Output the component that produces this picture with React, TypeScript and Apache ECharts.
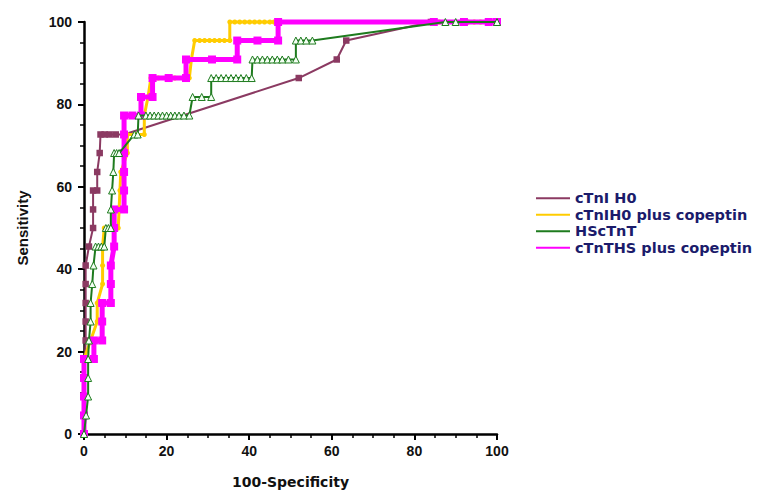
import React, { useEffect, useRef } from "react";
import * as echarts from "echarts";

// [100-Specificity, Sensitivity]
const cTnIH0: number[][] = [
  [0, 0], [0, 4.5], [0, 9.1], [0, 13.6], [0.2, 18.2], [0.4, 22.7], [0.4, 27.3], [0.4, 31.8],
  [0.4, 36.4], [0.4, 40.9], [1.2, 45.5], [2.2, 50], [2.2, 54.5], [2.2, 59.1], [3.2, 59.1],
  [3.2, 63.6], [3.8, 68.2], [4, 72.7], [5, 72.7], [6.2, 72.7], [7.7, 72.7], [9.7, 72.7],
  [52, 86.4], [61.2, 90.9], [63.5, 95.5], [84, 100], [100, 100],
];

const cTnIH0Copeptin: number[][] = [
  [0, 0], [0, 4.5], [0, 9.1], [0, 13.6], [0, 18.2], [1.6, 22.7], [3.2, 27.3], [3.2, 31.8],
  [4.5, 36.4], [4.5, 40.9], [4.5, 45.5], [4.9, 50], [6.5, 50], [8.3, 50], [8.5, 54.5],
  [8.7, 59.1], [8.9, 63.6], [10.5, 68.2], [10.5, 72.7], [12.5, 72.7], [14.6, 72.7],
  [14.6, 77.3], [15.5, 81.8], [16.2, 86.4], [18, 86.4], [20, 86.4], [22, 86.4], [24, 86.4],
  [25.5, 86.4], [26, 90.9], [26.8, 95.5], [28, 95.5], [29.2, 95.5], [30.4, 95.5], [31.6, 95.5],
  [32.8, 95.5], [34, 95.5], [35.3, 95.5], [35.3, 100], [36.5, 100], [37.7, 100], [38.9, 100],
  [40.1, 100], [41.3, 100], [42.5, 100], [43.7, 100], [45, 100], [46, 100], [86, 100],
  [93, 100], [94.5, 100], [96, 100], [97.5, 100], [100, 100],
];

const hsTnT: number[][] = [
  [0, 0], [0.5, 4.5], [1, 9.1], [1, 13.6], [1, 18.2], [1.2, 22.7], [1.6, 27.3], [1.6, 31.8],
  [2, 36.4], [2.3, 40.9], [2.8, 45.5], [3.5, 45.5], [4.2, 45.5], [4.9, 45.5], [5.3, 50],
  [5.9, 50], [6.5, 50], [6.5, 54.5], [6.8, 59.1], [7.1, 63.6], [7.3, 68.2], [7.9, 68.2],
  [8.5, 68.2], [12.2, 72.7], [13, 72.7], [13.2, 77.3], [15, 77.3], [16, 77.3], [17, 77.3],
  [18, 77.3], [19, 77.3], [20, 77.3], [21, 77.3], [22, 77.3], [23, 77.3], [24.2, 77.3],
  [25.5, 77.3], [26.3, 81.8], [28.5, 81.8], [30.8, 81.8], [30.8, 86.4], [32, 86.4],
  [33.2, 86.4], [34.4, 86.4], [35.6, 86.4], [36.8, 86.4], [38, 86.4], [39.3, 86.4],
  [40.6, 86.4], [40.8, 90.9], [42, 90.9], [43.2, 90.9], [44.4, 90.9], [45.6, 90.9],
  [46.8, 90.9], [48, 90.9], [49.5, 90.9], [51.3, 90.9], [51.3, 95.5], [52.5, 95.5],
  [53.8, 95.5], [55.3, 95.5], [87.5, 100], [90, 100], [100, 100],
];

const cTnTHSCopeptin: number[][] = [
  [0, 0], [0, 4.5], [0, 9.1], [0, 13.6], [0, 18.2], [2.4, 18.2], [2.4, 22.7], [4.4, 22.7],
  [4.4, 27.3], [4.4, 31.8], [6.5, 31.8], [6.5, 36.4], [6.5, 40.9], [7.3, 45.5], [7.3, 50],
  [7.3, 54.5], [9.7, 54.5], [9.7, 59.1], [9.7, 63.6], [9.7, 68.2], [9.7, 72.7], [9.7, 77.3],
  [11.7, 77.3], [13.8, 77.3], [13.8, 81.8], [16.6, 81.8], [16.6, 86.4], [20.5, 86.4],
  [24.7, 86.4], [24.7, 90.9], [31, 90.9], [37.1, 90.9], [37.1, 95.5], [42, 95.5], [47, 95.5],
  [47, 100], [84.7, 100], [92, 100], [98, 100], [100, 100],
];

const seriesNames = ["cTnI H0", "cTnIH0 plus copeptin", "HScTnT", "cTnTHS plus copeptin"];
const seriesColors = ["#8B3A62", "#FFCC00", "#1E7B1E", "#FF00FF"];

export default function App() {
  const ref = useRef<HTMLDivElement>(null);
  useEffect(() => {
    if (!ref.current) return;
    const chart = echarts.init(ref.current, undefined, { renderer: "svg" });
    const tickFont = {
      fontFamily: "Arial, 'Liberation Sans', sans-serif",
      fontWeight: "bold" as const,
      fontSize: 14,
      color: "#111",
    };
    chart.setOption({
      animation: false,
      backgroundColor: "#fff",
      grid: { left: 84, right: 262, top: 22, bottom: 63 },
      xAxis: {
        type: "value",
        min: 0,
        max: 100,
        interval: 20,
        name: "100-Specificity",
        nameLocation: "middle",
        nameGap: 41,
        nameTextStyle: {
          fontFamily: "'DejaVu Sans', sans-serif",
          fontWeight: "bold",
          fontSize: 14,
          color: "#111",
        },
        axisLine: { lineStyle: { color: "#000", width: 2.5 } },
        axisTick: { length: 6, lineStyle: { color: "#000", width: 2 } },
        minorTick: { show: true, splitNumber: 4, length: 4, lineStyle: { color: "#000", width: 1.5 } },
        axisLabel: { ...tickFont, margin: 10 },
        splitLine: { show: false },
      },
      yAxis: {
        type: "value",
        min: 0,
        max: 100,
        interval: 20,
        name: "Sensitivity",
        nameLocation: "middle",
        nameGap: 54,
        nameTextStyle: {
          fontFamily: "Arial, 'Liberation Sans', sans-serif",
          fontWeight: "bold",
          fontSize: 15,
          color: "#111",
        },
        axisLine: { lineStyle: { color: "#000", width: 2.5 } },
        axisTick: { length: 6, lineStyle: { color: "#000", width: 2 } },
        minorTick: { show: true, splitNumber: 4, length: 4, lineStyle: { color: "#000", width: 1.5 } },
        axisLabel: { ...tickFont, margin: 12 },
        splitLine: { show: false },
      },
      legend: {
        orient: "vertical",
        left: 531,
        top: 185,
        icon: "rect",
        itemWidth: 34,
        itemHeight: 2,
        itemGap: 0,
        selectedMode: false,
        textStyle: {
          fontFamily: "'DejaVu Sans', sans-serif",
          fontWeight: "bold",
          fontSize: 14.5,
          lineHeight: 16.5,
          color: "#1b1b6b",
        },
        data: seriesNames.map((n, i) => ({
          name: n,
          itemStyle: { color: seriesColors[i], borderWidth: 0 },
        })),
      },
      series: [
        {
          name: seriesNames[0],
          type: "line",
          data: cTnIH0,
          clip: false,
          z: 2,
          color: seriesColors[0],
          symbol: "rect",
          symbolSize: 6.5,
          lineStyle: { color: seriesColors[0], width: 2 },
          itemStyle: { color: seriesColors[0] },
          emphasis: { disabled: true },
        },
        {
          name: seriesNames[1],
          type: "line",
          data: cTnIH0Copeptin,
          clip: false,
          z: 3,
          color: seriesColors[1],
          symbol: "circle",
          symbolSize: 5,
          lineStyle: { color: seriesColors[1], width: 3 },
          itemStyle: { color: seriesColors[1] },
          emphasis: { disabled: true },
        },
        {
          name: seriesNames[3],
          type: "line",
          data: cTnTHSCopeptin,
          clip: false,
          z: 4,
          color: seriesColors[3],
          symbol: "rect",
          symbolSize: 8,
          lineStyle: { color: seriesColors[3], width: 5 },
          itemStyle: { color: seriesColors[3] },
          emphasis: { disabled: true },
        },
        {
          name: seriesNames[2],
          type: "line",
          data: hsTnT,
          clip: false,
          z: 5,
          color: seriesColors[2],
          symbol: "triangle",
          symbolSize: 7,
          lineStyle: { color: seriesColors[2], width: 2 },
          itemStyle: { color: "#f4fff4", borderColor: seriesColors[2], borderWidth: 1 },
          emphasis: { disabled: true },
        },
      ],
    });
    return () => chart.dispose();
  }, []);
  return <div ref={ref} style={{ width: 759, height: 497, position: "absolute", left: 0, top: 0 }} />;
}
